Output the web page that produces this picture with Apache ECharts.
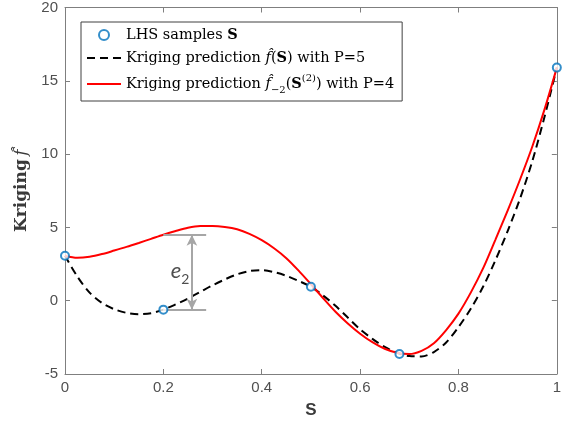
<!DOCTYPE html>
<html>
<head>
<meta charset="utf-8">
<script src="https://cdn.jsdelivr.net/npm/echarts/dist/echarts.min.js"></script>
<style>
html,body{margin:0;padding:0;background:#fff;}
#c{width:564px;height:432px;}
</style>
</head>
<body>
<div id="c"></div>
<script>
// ---- data ----
const sampleS = [0, 0.2, 0.5, 0.68, 1];
const sampleF = [3.07, -0.61, 0.95, -3.64, 15.9];

const gridS = [0, 0.025, 0.05, 0.075, 0.1, 0.125, 0.15, 0.175, 0.2, 0.225,
  0.25, 0.275, 0.3, 0.325, 0.35, 0.375, 0.4, 0.425, 0.45, 0.475,
  0.5, 0.525, 0.55, 0.575, 0.6, 0.625, 0.65, 0.675, 0.7, 0.725,
  0.75, 0.775, 0.8, 0.825, 0.85, 0.875, 0.9, 0.925, 0.95, 0.975, 1];

const predP5 = [3.07, 1.65, 0.55, -0.15, -0.58, -0.83, -0.92, -0.85, -0.61, -0.25,
  0.15, 0.6, 1.05, 1.45, 1.8, 2.02, 2.08, 1.95, 1.7, 1.35,
  0.95, 0.35, -0.35, -1.15, -1.95, -2.6, -3.15, -3.55, -3.78, -3.8,
  -3.5, -2.85, -1.8, -0.55, 0.95, 2.75, 4.75, 6.95, 9.5, 12.55, 15.9];

const predP4 = [3.07, 2.93, 3.0, 3.18, 3.42, 3.67, 3.94, 4.22, 4.5, 4.75,
  4.97, 5.09, 5.1, 5.03, 4.87, 4.56, 4.13, 3.58, 2.9, 2.05,
  1.12, 0.17, -0.75, -1.55, -2.25, -2.83, -3.28, -3.55, -3.64, -3.42,
  -2.9, -2.0, -0.88, 0.55, 2.2, 4.15, 6.15, 8.25, 10.5, 13.05, 15.9];

const xTicks = [0, 0.2, 0.4, 0.6, 0.8, 1];
const yTicks = [-5, 0, 5, 10, 15, 20];

// e2 annotation (error between the two predictions at the left-out sample)
const e2S = [0.2, 0.287];   // horizontal guide extent
const e2ArrowS = 0.258;
const e2Top = 4.5;
const e2Bottom = -0.61;
const e2LabelPos = [0.234, 2.0];

const names = ['LHS samples S', 'P5', 'P4'];

// ---- chart ----
const zip = (a, b) => a.map((v, i) => [v, b[i]]);
const chart = echarts.init(document.getElementById('c'), null, {renderer: 'canvas'});

const axisColor = '#7f7f7f';
const labelColor = '#505050';
const serif = 'DejaVu Serif';

function xAx(pos, showLabel) {
  return {
    type: 'value', position: pos, min: xTicks[0], max: xTicks[xTicks.length - 1], interval: 0.2,
    axisLine: {show: true, onZero: false, lineStyle: {color: axisColor, width: 1}},
    axisTick: {show: true, inside: true, length: 5, lineStyle: {color: axisColor}},
    axisLabel: {show: showLabel, color: labelColor, fontSize: 15, fontFamily: 'Liberation Sans', margin: 6},
    splitLine: {show: false},
    name: showLabel ? 'S' : '', nameLocation: 'middle', nameGap: 28,
    nameTextStyle: {color: '#3a3a3a', fontSize: 17, fontWeight: 'bold', fontFamily: 'Liberation Sans'}
  };
}
function yAx(pos, showLabel) {
  return {
    type: 'value', position: pos, min: yTicks[0], max: yTicks[yTicks.length - 1], interval: 5,
    axisLine: {show: true, onZero: false, lineStyle: {color: axisColor, width: 1}},
    axisTick: {show: true, inside: true, length: 5, lineStyle: {color: axisColor}},
    axisLabel: {show: showLabel, color: labelColor, fontSize: 15, fontFamily: 'Liberation Sans', margin: 7},
    splitLine: {show: false},
    name: showLabel ? '{b|Kriging} {i|f\u0302}' : '', nameLocation: 'middle', nameGap: 33,
    nameTextStyle: {
      color: '#3a3a3a',
      rich: {
        b: {fontFamily: serif, fontSize: 17, fontWeight: 'bold', color: '#3a3a3a'},
        i: {fontFamily: serif, fontSize: 17, fontStyle: 'italic', color: '#3a3a3a'}
      }
    }
  };
}

const fs = 14.5;
const legendRich = {
  n: {fontFamily: serif, fontSize: fs, color: '#000'},
  b: {fontFamily: serif, fontSize: fs, fontWeight: 'bold', color: '#000'},
  i: {fontFamily: serif, fontSize: fs, fontStyle: 'italic', color: '#000'},
  sub: {fontFamily: serif, fontSize: 10, color: '#000', verticalAlign: 'bottom', padding: [0, 0, -3, 0]},
  sup: {fontFamily: serif, fontSize: 10, color: '#000', verticalAlign: 'top', padding: [-3, 0, 0, 0]}
};

const option = {
  animation: false,
  backgroundColor: '#fff',
  grid: {left: 65, right: 4, top: 7, bottom: 58, containLabel: false},
  xAxis: [xAx('bottom', true), xAx('top', false)],
  yAxis: [yAx('left', true), yAx('right', false)],
  legend: {
    show: true, orient: 'vertical', left: 81, top: 22,
    backgroundColor: '#fff', borderColor: '#404040', borderWidth: 1,
    padding: [5, 8, 6, 5], itemGap: 7, itemWidth: 34, itemHeight: 10,
    data: [
      {name: names[0], itemStyle: {borderWidth: 2}},
      {name: names[1], itemStyle: {opacity: 0}},
      {name: names[2], itemStyle: {opacity: 0}}
    ],
    textStyle: {rich: legendRich, lineHeight: 16},
    formatter: function (nm) {
      if (nm === names[0]) return '{n|LHS samples }{b|S}';
      if (nm === names[1]) return '{n|Kriging prediction }{i|f\u0302}{n|(}{b|S}{n|) with P=5}';
      return '{n|Kriging prediction }{i|f\u0302}{sub|\u22122}{n|(}{b|S}{sup|(2)}{n|) with P=4}';
    }
  },
  series: [
    {
      name: names[1], type: 'line', data: zip(gridS, predP5), smooth: 0.3,
      symbol: 'none', z: 3,
      lineStyle: {color: '#000', width: 2, type: [8, 5]},
      itemStyle: {color: '#000'}
    },
    {
      name: names[2], type: 'line', data: zip(gridS, predP4), smooth: 0.3,
      symbol: 'none', z: 4,
      lineStyle: {color: '#ff0000', width: 2},
      itemStyle: {color: '#ff0000'}
    },
    {
      name: 'e2', type: 'line', data: [], silent: true, z: 2,
      markLine: {
        silent: true, animation: false,
        label: {show: false},
        lineStyle: {color: '#a6a6a6', width: 2, type: 'solid'},
        symbol: ['none', 'none'],
        data: [
          [{coord: [e2S[0], e2Top]}, {coord: [e2S[1], e2Top]}],
          [{coord: [e2S[0], e2Bottom]}, {coord: [e2S[1], e2Bottom]}],
          [{coord: [e2ArrowS, e2Top], symbol: 'arrow', symbolSize: [8, 11]},
           {coord: [e2ArrowS, e2Bottom], symbol: 'arrow', symbolSize: [8, 11]}]
        ]
      }
    },
    {
      name: 'e2label', type: 'scatter', data: [e2LabelPos], symbolSize: 0, silent: true, z: 6,
      label: {
        show: true, position: 'inside',
        formatter: '{e|e}{s|2}',
        rich: {
          e: {fontFamily: 'Lato', fontStyle: 'italic', fontSize: 22, color: '#222'},
          s: {fontFamily: 'Lato', fontSize: 14, color: '#222', verticalAlign: 'bottom', padding: [0, 0, -4, 0]}
        }
      }
    },
    {
      name: names[0], type: 'scatter', data: zip(sampleS, sampleF),
      symbol: 'emptyCircle', symbolSize: 8, clip: false, z: 5,
      itemStyle: {color: '#0072BD', borderColor: '#0072BD', borderWidth: 2}
    }
  ]
};
chart.setOption(option);
</script>
</body>
</html>
